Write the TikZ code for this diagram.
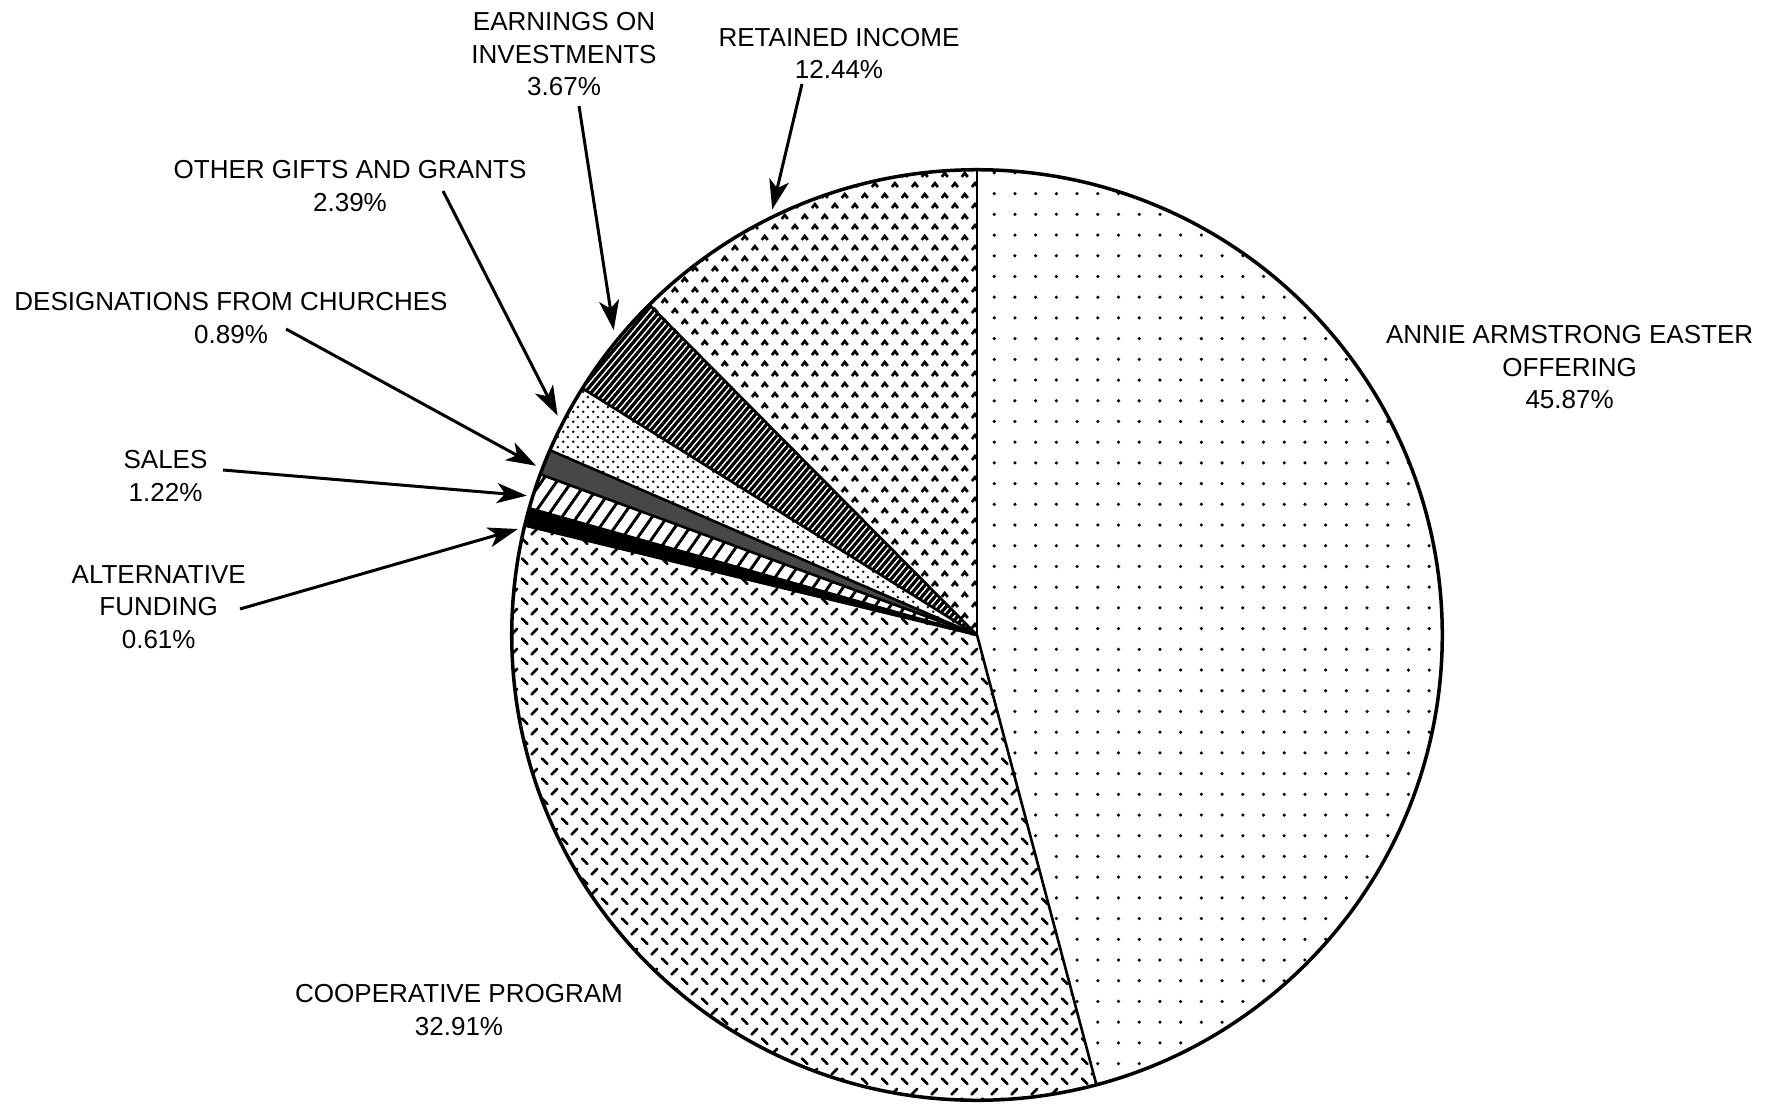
\documentclass[tikz,border=0pt]{standalone}
\usepackage{fontspec}
\setmainfont{Liberation Sans}
\usetikzlibrary{patterns.meta,arrows.meta,calc}

\tikzdeclarepattern{
  name=annidots,
  bottom left={(-1pt,-1pt)},
  top right={(1pt,1pt)},
  tile size={(5.89pt,5.89pt)},
  code={\tikzset{x=1pt,y=1pt}\fill (0,0) circle[radius=0.5];}
}
\tikzdeclarepattern{
  name=coopdash,
  bottom left={(0pt,0pt)},
  top right={(5.69pt,5.69pt)},
  tile size={(5.69pt,5.69pt)},
  code={\tikzset{x=1pt,y=1pt}
    \draw[line width=0.8pt,line cap=round] (0.6,2.24)--(2.24,0.6)
      (3.45,3.45)--(5.09,5.09);}
}
\tikzdeclarepattern{
  name=retchev,
  bottom left={(0pt,0pt)},
  top right={(5.78pt,5.86pt)},
  tile size={(5.78pt,5.86pt)},
  code={\tikzset{x=1pt,y=1pt}
    \draw[line width=0.8pt] (0.56,0.86)--(1.44,1.96)--(2.32,0.86)
      (3.45,3.79)--(4.33,4.89)--(5.21,3.79);}
}
\tikzdeclarepattern{
  name=otherdots,
  bottom left={(0pt,0pt)},
  top right={(2.85pt,2.85pt)},
  tile size={(2.85pt,2.85pt)},
  code={\tikzset{x=1pt,y=1pt}\fill (0.71,0.71) circle[radius=0.45] (2.14,2.14) circle[radius=0.45];}
}
\tikzdeclarepattern{
  name=earnlines,
  bottom left={(-0.05pt,-0.55pt)},
  top right={(1.47pt,0.55pt)},
  tile size={(1.42pt,1.42pt)},
  tile transformation={rotate=50},
  code={\tikzset{x=1pt,y=1pt}\fill (-0.05,-0.47) rectangle (1.47,0.47);}
}
\tikzdeclarepattern{
  name=saleslines,
  bottom left={(-0.05pt,-0.5pt)},
  top right={(3.55pt,0.5pt)},
  tile size={(3.5pt,3.5pt)},
  tile transformation={rotate=55},
  code={\tikzset{x=1pt,y=1pt}\fill (-0.05,-0.42) rectangle (3.55,0.42);}
}

\newcommand\pieslice[3]{\path[#3] (C) -- ++(#1:\R) arc[start angle=#1, end angle=#2, radius=\R] -- cycle;}
\def\R{4.65cm}

\begin{document}
\begin{tikzpicture}[x=0.01cm,y=0.01cm,
  lbl/.style={font=\fontsize{7.4pt}{9.25pt}\selectfont, align=center, inner sep=0pt},
  arr/.style={line width=0.85pt, -{Stealth[length=8.5pt,width=5.7pt,inset=2.3pt]}},
  slicebd/.style={line width=0.75pt},
  outline/.style={line width=1.0pt}]
\fill[white] (0,0) rectangle (1777,1105);
\useasboundingbox (0,0) rectangle (1777,1105);
\coordinate (C) at (977,470);

% slices
\pieslice{-75.13}{90}{pattern=annidots}
\pieslice{166.39}{284.87}{pattern=coopdash}
\pieslice{164.19}{166.39}{fill=black}
\pieslice{159.80}{164.19}{pattern=saleslines}
\pieslice{156.60}{159.80}{fill=black!72}
\pieslice{147.99}{156.60}{pattern=otherdots}
\pieslice{134.78}{147.99}{pattern=earnlines}
\pieslice{90}{134.78}{pattern=retchev}

\foreach \a in {90,-75.13,166.39,164.19,159.80,156.60,147.99,134.78}
  \draw[slicebd] (C) -- ++(\a:\R);
\draw[outline] (C) circle[radius=\R];

% labels
\node[lbl] (earn) at (564,1050.6) {EARNINGS ON\\INVESTMENTS\\3.67\%};
\node[lbl] (ret) at (839,1051.7) {RETAINED INCOME\\12.44\%};
\node[lbl] (oth) at (350,919) {OTHER GIFTS AND GRANTS\\2.39\%};
\node[lbl] (des) at (231,787) {DESIGNATIONS FROM CHURCHES\\0.89\%};
\node[lbl] (sal) at (165.5,629) {SALES\\1.22\%};
\node[lbl] (alt) at (158.7,498) {ALTERNATIVE\\FUNDING\\0.61\%};
\node[lbl] (ann) at (1569.6,737.5) {ANNIE ARMSTRONG EASTER\\OFFERING\\45.87\%};
\node[lbl] (coop) at (459,95) {COOPERATIVE PROGRAM\\32.91\%};

% arrow ends
\coordinate (retS) at (802,1021);
\coordinate (earnS) at (579,999);
\coordinate (othS) at (443,914);
\coordinate (desS) at (286,776);
\coordinate (salS) at (223,635);
\coordinate (altS) at (240,496);
\coordinate (retT) at ($(C)+(115.7:4.72cm)$);
\coordinate (earnT) at ($(C)+(140:4.74cm)$);
\coordinate (othT) at ($(C)+(152.4:4.73cm)$);
\coordinate (desT) at ($(C)+(159:4.72cm)$);
\coordinate (salT) at ($(C)+(162.8:4.71cm)$);
\coordinate (altT) at ($(C)+(167:4.71cm)$);

\draw[arr] (retS) -- (retT);
\draw[arr] (earnS) -- (earnT);
\draw[arr] (othS) -- (othT);
\draw[arr] (desS) -- (desT);
\draw[arr] (salS) -- (salT);
\draw[arr] (altS) -- (altT);
\end{tikzpicture}
\end{document}
